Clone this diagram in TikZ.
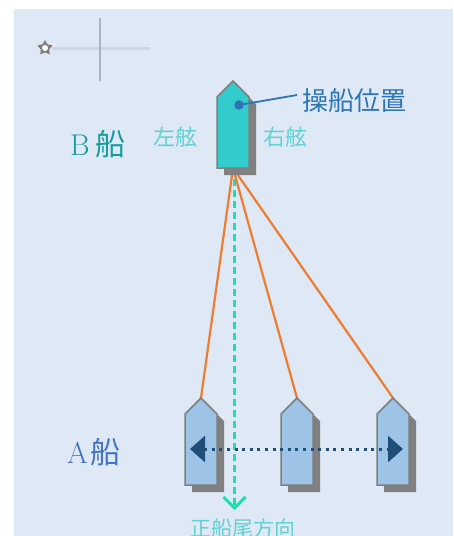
\documentclass[tikz,border=0pt]{standalone}
\usepackage{fontspec}
\usepackage{tikz}
\usetikzlibrary{arrows.meta,shapes.geometric,backgrounds}
\newfontfamily\jpfont{Noto Sans CJK JP}
\definecolor{corfundo}{RGB}{222,233,245}
\definecolor{corborda}{RGB}{127,127,127}
\definecolor{corsombra}{RGB}{128,128,128}
\definecolor{corcascoB}{RGB}{51,204,204}
\definecolor{corcascoA}{RGB}{157,195,230}
\definecolor{corcabo}{RGB}{237,125,49}
\definecolor{corpopa}{RGB}{30,222,178}
\definecolor{corseta}{RGB}{31,78,121}
\definecolor{corposto}{RGB}{46,117,182}
\definecolor{corbordo}{RGB}{95,210,210}
\definecolor{cornavioB}{RGB}{23,156,156}
\definecolor{cornavioA}{RGB}{68,114,196}
\definecolor{cormira}{RGB}{205,216,228}
\definecolor{corcruz}{RGB}{166,180,196}

% casco: nome, x e y da proa, cor
\newcommand{\casco}[4]{
  \begin{scope}[shift={(#2,#3)}]
    \fill[corsombra] (7,7) -- (23,23) -- (23,94) -- (-9,94) -- (-9,23) -- cycle;
    \filldraw[fill=#4, draw=corborda, line width=1.5pt, line join=miter]
      (0,0) -- (16,16) -- (16,87) -- (-16,87) -- (-16,16) -- cycle;
    \coordinate (#1-proa) at (0,0);
    \coordinate (#1-popa) at (0,87);
    \coordinate (#1-meio) at (0,51);
    \coordinate (#1-posto) at (6,24);
  \end{scope}
}

\begin{document}
\begin{tikzpicture}[x=1pt, y=-1pt,
  cabo/.style={corcabo, line width=2.2pt},
  rumo/.style={corpopa, line width=3pt, dash pattern=on 7pt off 4pt,
    -{Straight Barb[length=11pt, width=22pt]}},
  deriva/.style={corseta, line width=3pt, dash pattern=on 3pt off 4.6pt,
    {Triangle[length=15pt, width=26pt]}-{Triangle[length=15pt, width=26pt]}},
  rotulo/.style={inner sep=0pt, font=\jpfont}]
  \useasboundingbox (0,0) rectangle (453,536);

  \begin{scope}[on background layer]
    \fill[corfundo] (14,9) rectangle (453,536);
  \end{scope}

  % mira
  \draw[cormira, line width=3pt] (52,48) -- (150,48);
  \draw[corcruz, line width=2pt] (100,18) -- (100,81);
  \node[star, star points=5, star point ratio=1.8, minimum size=16pt, inner sep=0pt,
    fill=corsombra] (engrenagem) at (45,48) {};
  \fill[white] (engrenagem.center) circle (3pt);

  % navios
  \casco{B}{233}{81}{corcascoB}
  \casco{A1}{201}{398}{corcascoA}
  \casco{A2}{297}{398}{corcascoA}
  \casco{A3}{393}{398}{corcascoA}

  \coordinate (fimpopa) at (234.5,510);
  \begin{scope}[on background layer]
    \draw[cabo] (B-popa) -- (A1-proa);
    \draw[cabo] (B-popa) -- (A2-proa);
    \draw[cabo] (B-popa) -- (A3-proa);
    \draw[rumo] ([xshift=1.5pt]B-popa) -- (fimpopa);
  \end{scope}

  \draw[deriva] ([xshift=-11pt]A1-meio) -- ([xshift=10pt]A3-meio);

  % textos
  \fill[corposto] (B-posto) circle (4.8pt);
  \node[rotulo, anchor=west, text=corposto, font=\jpfont\fontsize{26}{30}\selectfont]
    (posto) at (302,101) {操船位置};
  \draw[corposto, line width=1.8pt] (B-posto) -- ([xshift=-5pt, yshift=6pt]posto.west);
  \node[rotulo, text=corbordo, font=\jpfont\fontsize{22}{26}\selectfont] (bombordo) at (175,137) {左舷};
  \node[rotulo, text=corbordo, font=\jpfont\fontsize{22}{26}\selectfont] (boreste) at (285,137) {右舷};
  \node[inner sep=0pt, text=cornavioB, font=\fontsize{30}{34}\selectfont] (navioB) at (98,144)
    {B\hspace{6pt}{\jpfont 船}};
  \node[inner sep=0pt, text=cornavioA, font=\fontsize{30}{34}\selectfont] (navioA) at (94,452)
    {A\hspace{3pt}{\jpfont 船}};
  \node[rotulo, text=corbordo, font=\jpfont\fontsize{21}{24}\selectfont, below=9pt, xshift=8.5pt]
    (popa) at (fimpopa) {正船尾方向};
\end{tikzpicture}
\end{document}
